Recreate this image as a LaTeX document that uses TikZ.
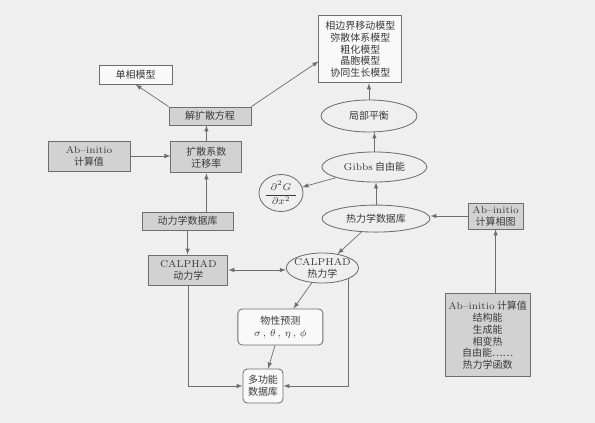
\documentclass[tikz,border=0pt]{standalone}
\usepackage{fontspec}
\usepackage{amsmath}
\newfontfamily\cjk{Noto Sans CJK SC}
\usetikzlibrary{shapes.geometric}
\definecolor{paper}{HTML}{EFEFEF}
\definecolor{boxgray}{HTML}{D2D2D2}
\definecolor{linegray}{HTML}{6E6E6E}
\definecolor{textdark}{HTML}{3A3A3A}
\newcommand{\lat}[1]{{\rmfamily #1}}

\tikzset{
  graybox/.style={draw=linegray,fill=boxgray,line width=0.6pt,inner sep=0pt,align=center},
  plainbox/.style={draw=linegray,fill=paper!40!white,line width=0.6pt,inner sep=0pt,align=center},
  roundbox/.style={plainbox,rounded corners=3pt},
  oval/.style={ellipse,draw=linegray,line width=0.6pt,inner sep=0pt,align=center},
  link/.style={draw=linegray,line width=0.5pt,-latex}
}

\begin{document}
\begin{tikzpicture}[x=1cm,y=1cm,font=\fontsize{7.1}{8.4}\cjk,text=textdark]
  \useasboundingbox (0,0) rectangle (14.875,10.575);
  \fill[paper] (0,0) rectangle (14.875,10.575);

  % upper part
  \node[plainbox,minimum width=1.825cm,minimum height=0.475cm] (single) at (3.39,8.71) {单相模型};
  \node[graybox,minimum width=2.05cm,minimum height=0.45cm] (solve) at (5.25,7.675) {解扩散方程};
  \node[plainbox,minimum width=2.075cm,minimum height=1.675cm] (models) at (9.01,9.34)
    {相边界移动模型\\弥散体系模型\\粗化模型\\晶胞模型\\协同生长模型};
  \node[oval,minimum width=2.4cm,minimum height=0.8cm] (local) at (9.225,7.675) {局部平衡};
  \node[oval,minimum width=2.625cm,minimum height=0.75cm] (gibbs) at (9.36,6.4) {\lat{Gibbs} 自由能};
  \node[oval,minimum width=1.1cm,minimum height=0.925cm,inner sep=-3pt] (deriv) at (7.025,5.75)
    {\scriptsize$\dfrac{\hspace*{3pt}\partial^2G\hspace*{3pt}}{\partial x^2}$};

  % left column
  \node[graybox,minimum width=2.05cm,minimum height=0.75cm] (ableft) at (2.225,6.675) {\lat{Ab--initio}\\计算值};
  \node[graybox,minimum width=1.775cm,minimum height=0.775cm] (diffcoef) at (5.16,6.64) {扩散系数\\迁移率};
  \node[graybox,minimum width=2.275cm,minimum height=0.45cm] (kindb) at (4.69,5.05) {动力学数据库};
  \node[graybox,minimum width=1.975cm,minimum height=0.75cm] (calkin) at (4.71,3.825) {\lat{CALPHAD}\\动力学};

  % right column
  \node[oval,minimum width=2.7cm,minimum height=0.675cm] (thermodb) at (9.4,5.11) {热力学数据库};
  \node[oval,minimum width=1.625cm,minimum height=0.75cm,inner sep=-2pt] (calthermo) at (8.06,3.875) {\lat{CALPHAD}\\热力学};
  \node[graybox,minimum width=1.375cm,minimum height=0.65cm] (abphase) at (12.39,5.175) {\lat{Ab--initio}\\计算相图};
  \node[graybox,minimum width=2.125cm,minimum height=2.075cm] (abcalc) at (12.19,2.19)
    {\lat{Ab--initio} 计算值\\结构能\\生成能\\相变热\\自由能……\\热力学函数};

  % bottom
  \node[roundbox,minimum width=2.125cm,minimum height=0.9cm] (property) at (7.01,2.4)
    {物性预测\\$\sigma\,,\,\theta\,,\,\eta\,,\,\phi$};
  \node[roundbox,minimum width=1.0cm,minimum height=0.85cm] (multidb) at (6.575,0.925) {多功能\\数据库};

  % connectors
  \draw[link] (solve.north west) -- (single.south);
  \draw[link] (solve.north east) -- ([yshift=-0.3cm]models.west);
  \draw[link] (diffcoef.north) -- (diffcoef.north |- solve.south);
  \draw[link] (ableft.east) -- (ableft.east -| diffcoef.west);
  \draw[link] (kindb.north -| diffcoef.south) -- (diffcoef.south);
  \draw[link] (kindb.south) -- (kindb.south |- calkin.north);
  \draw[link,latex-latex] (calkin.east) -- (calkin.east -| calthermo.west);
  \draw[link] (thermodb) -- (calthermo);
  \draw[link] (thermodb.north) -- (thermodb.north |- gibbs.south);
  \draw[link] (gibbs) -- (deriv);
  \draw[link] (gibbs.north) -- (gibbs.north |- local.south);
  \draw[link] (local.north) -- (local.north |- models.south);
  \draw[link] (abphase.west) -- (abphase.west -| thermodb.east);
  \draw[link] (abphase.south |- abcalc.north) -- (abphase.south);
  \draw[link] (calthermo) -- (property);
  \draw[link] (property) -- (multidb);
  \draw[link] (calkin.south) |- (multidb.west);
  \draw[link] (calthermo.south east) |- (multidb.east);
\end{tikzpicture}
\end{document}
